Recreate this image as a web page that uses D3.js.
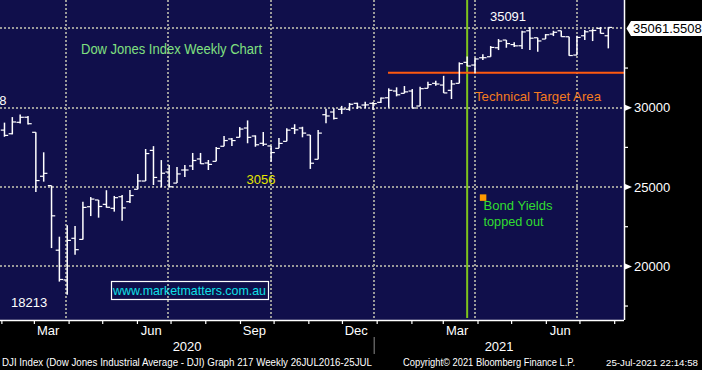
<!DOCTYPE html>
<html>
<head>
<meta charset="utf-8">
<script src="https://cdn.jsdelivr.net/npm/d3@7"></script>
<style>
  body { margin: 0; background: #000; }
  text { font-family: 'Liberation Sans', Arial, sans-serif; }
</style>
</head>
<body>
<div id="chart"></div>
<script>
// weekly bars, Dow Jones Industrial Average (week ending)
const weeks = [
  '2020-01-31','2020-02-07','2020-02-14','2020-02-21','2020-02-28',
  '2020-03-06','2020-03-13','2020-03-20','2020-03-27',
  '2020-04-03','2020-04-10','2020-04-17','2020-04-24',
  '2020-05-01','2020-05-08','2020-05-15','2020-05-22','2020-05-29',
  '2020-06-05','2020-06-12','2020-06-19','2020-06-26',
  '2020-07-03','2020-07-10','2020-07-17','2020-07-24','2020-07-31',
  '2020-08-07','2020-08-14','2020-08-21','2020-08-28',
  '2020-09-04','2020-09-11','2020-09-18','2020-09-25',
  '2020-10-02','2020-10-09','2020-10-16','2020-10-23','2020-10-30',
  '2020-11-06','2020-11-13','2020-11-20','2020-11-27',
  '2020-12-04','2020-12-11','2020-12-18','2020-12-25',
  '2021-01-01','2021-01-08','2021-01-15','2021-01-22','2021-01-29',
  '2021-02-05','2021-02-12','2021-02-19','2021-02-26',
  '2021-03-05','2021-03-12','2021-03-19','2021-03-26',
  '2021-04-02','2021-04-09','2021-04-16','2021-04-23','2021-04-30',
  '2021-05-07','2021-05-14','2021-05-21','2021-05-28',
  '2021-06-04','2021-06-11','2021-06-18','2021-06-25',
  '2021-07-02','2021-07-09','2021-07-16','2021-07-23'
]
const opens = [28590,28360,29080,29400,28450,25680,25090,21020,19145,21770,
  21700,23760,24185,23910,23660,24390,24080,24860,25380,27310,
  25380,25950,25250,26075,26330,26770,26516,26620,27570,28030,
  28135,28720,28217,27757,27590,27440,27880,28700,28720,28280,
  26750,29560,29730,29900,29900,30277,30170,30277,30340,30627,
  31052,30907,31052,30107,31222,31537,31430,31096,31537,32860,
  32690,33150,33213,33780,34265,33980,33906,34851,34410,34328,
  34643,34851,34473,33320,34536,34851,35002,34536]
const highs = [29060,29410,29568,29480,28450,27190,25090,21870,22600,22550,
  24080,24370,24185,24800,24440,24500,24810,25820,27400,27580,
  26700,26390,26260,26390,27150,27150,26705,27520,28210,28090,
  28780,29200,28260,28470,27590,28090,28700,28960,28800,28280,
  28600,29933,29962,30116,30300,30315,30378,30359,30650,31222,
  31285,31367,31178,31323,31638,31701,32010,31745,32860,33227,
  33150,33364,33887,34328,34265,34120,34850,35091,34410,34643,
  34851,34851,34473,34536,34895,34958,35091,35080]
const lows = [28170,28320,29000,28940,24681,25340,21154,19040,18213,20735,
  21700,23170,23070,23700,23450,22880,24000,24860,25380,25130,
  24990,25000,25250,25630,26075,26460,26075,26620,27570,27590,
  28135,27760,27540,27590,26600,27440,27880,28340,28135,26143,
  26750,29017,29260,29600,29810,29918,29962,29855,30300,30000,
  30718,30907,29962,30107,31222,31386,30932,30547,31537,32620,
  32171,33005,33213,33635,33780,33824,33698,33640,33528,34328,
  34517,34473,33280,33320,34265,34202,34680,33741]
const closes = [28256,29102,29398,28992,25409,25865,23186,19174,21637,21053,
  23719,24242,23775,23724,24331,23685,24465,25383,27111,25606,
  25871,25016,25827,26075,26672,26470,26428,27433,27931,27930,
  28654,28133,27666,27700,27174,27750,28587,28606,28400,26502,
  28400,29480,29330,29910,30218,30046,30179,30260,30606,31098,
  30814,31000,29983,31200,31458,31494,30932,31496,32779,32628,
  33073,33153,33801,34200,34043,33900,34778,34382,34208,34600,
  34756,34480,33290,34433,34786,34870,34688,35061.5508]

// axis values
const gridValues = [20000, 25000, 30000, 35000]
const labelValues = [20000, 25000, 30000]
const minorValues = [17500, 22500, 27500, 32500]
const lastPrice = 35061.5508

// annotations
const targetLevel = 32200
const bondWeek = '2021-03-19'
const bondMarker = { week: '2021-04-02', value: 24350 }
const highLabel = 35091
const lowLabel = 18213
const febHigh = 29568

const width = 702, height = 370
const plotW = 624, plotH = 320
const parse = d3.utcParse('%Y-%m-%d')

const data = weeks.map((w, i) => ({
  date: parse(w), o: opens[i], h: highs[i], l: lows[i], c: closes[i]
}))

const svg = d3.select('#chart')
  .append('svg')
  .attr('width', width)
  .attr('height', height)
  .style('display', 'block')

svg.append('rect').attr('width', width).attr('height', height).attr('fill', '#000')

const xScale = d3.scaleUtc()
  .domain([Date.UTC(2020, 1, 2), Date.UTC(2021, 7, 12)])
  .range([0, plotW])
const yScale = d3.scaleLinear().domain([16620, 36790]).range([plotH, 0])

// bars sit a few days after the week end date on this chart
const barX = d => xScale(d3.utcDay.offset(d, 6))

//plot background
svg.append('rect')
  .attr('width', plotW).attr('height', plotH)
  .attr('fill', '#100f4b')

//dotted grid
const grid = svg.append('g')
  .attr('stroke', '#9a9a9a')
  .attr('stroke-width', 2)
  .attr('stroke-dasharray', '2,2')
grid.selectAll('.hg').data(gridValues).join('line')
  .attr('x1', 0).attr('x2', plotW)
  .attr('y1', d => Math.round(yScale(d))).attr('y2', d => Math.round(yScale(d)))
const quarters = d3.utcMonth.every(3).range(xScale.domain()[0], xScale.domain()[1])
grid.selectAll('.vg').data(quarters).join('line')
  .attr('x1', d => Math.round(xScale(d))).attr('x2', d => Math.round(xScale(d)))
  .attr('y1', 0).attr('y2', plotH)

//green vertical line (bond yields)
svg.append('line')
  .attr('x1', barX(parse(bondWeek))).attr('x2', barX(parse(bondWeek)))
  .attr('y1', 0).attr('y2', plotH - 2)
  .attr('stroke', '#7ec41c').attr('stroke-width', 2)

//orange target line
svg.append('line')
  .attr('x1', 388).attr('x2', plotW)
  .attr('y1', yScale(targetLevel)).attr('y2', yScale(targetLevel))
  .attr('stroke', '#ff5a0f').attr('stroke-width', 2)

//ohlc bars
const bars = svg.append('g').attr('stroke', '#fff')
bars.selectAll('.hl').data(data).join('line')
  .attr('x1', d => barX(d.date)).attr('x2', d => barX(d.date))
  .attr('y1', d => yScale(d.h)).attr('y2', d => yScale(d.l))
  .attr('stroke-width', 1.5)
bars.selectAll('.op').data(data).join('line')
  .attr('x1', d => barX(d.date) - 3.7).attr('x2', d => barX(d.date))
  .attr('y1', d => yScale(d.o)).attr('y2', d => yScale(d.o))
  .attr('stroke-width', 1.2)
bars.selectAll('.cl').data(data).join('line')
  .attr('x1', d => barX(d.date)).attr('x2', d => barX(d.date) + 3.7)
  .attr('y1', d => yScale(d.c)).attr('y2', d => yScale(d.c))
  .attr('stroke-width', 1.2)

//bond yield marker
svg.append('rect')
  .attr('x', barX(parse(bondMarker.week)) - 3)
  .attr('y', yScale(bondMarker.value) - 3)
  .attr('width', 6.5).attr('height', 6.5)
  .attr('fill', '#ff9a00')

//axis border lines
svg.append('line').attr('x1', 0).attr('x2', plotW).attr('y1', plotH + 0.5).attr('y2', plotH + 0.5)
  .attr('stroke', '#fff').attr('stroke-width', 1.5)
svg.append('line').attr('x1', plotW + 0.5).attr('x2', plotW + 0.5).attr('y1', 0).attr('y2', plotH)
  .attr('stroke', '#fff').attr('stroke-width', 1.5)

//month ticks
const months = d3.utcMonth.range(d3.utcMonth.ceil(xScale.domain()[0]), xScale.domain()[1])
svg.append('g').selectAll('line').data([d3.utcMonth.floor(xScale.domain()[0])].concat(months)).join('line')
  .attr('x1', d => xScale(d) + 3).attr('x2', d => xScale(d) + 3)
  .attr('y1', plotH).attr('y2', plotH + 4)
  .attr('stroke', '#fff').attr('stroke-width', 1.2)

//month labels
svg.append('g').selectAll('text')
  .data(months.filter(d => d.getUTCMonth() % 3 === 2))
  .join('text')
  .attr('x', d => xScale(d3.utcDay.offset(d, 15)))
  .attr('y', 335)
  .attr('text-anchor', 'middle')
  .attr('fill', '#fff')
  .style('font-size', '13px')
  .text(d3.utcFormat('%b'))

//year labels
const yearSplit = xScale(Date.UTC(2021, 0, 1))
svg.append('text').attr('x', yearSplit / 2).attr('y', 351)
  .attr('text-anchor', 'middle').attr('fill', '#fff').style('font-size', '13px').text('2020')
svg.append('text').attr('x', (yearSplit + plotW) / 2).attr('y', 351)
  .attr('text-anchor', 'middle').attr('fill', '#fff').style('font-size', '13px').text('2021')
svg.append('line').attr('x1', yearSplit).attr('x2', yearSplit).attr('y1', 337).attr('y2', 354)
  .attr('stroke', '#8a8a8a').attr('stroke-width', 1)

//right axis labels
const yLab = svg.append('g')
yLab.selectAll('path').data(labelValues).join('path')
  .attr('d', d => `M${plotW + 1},${yScale(d) - 3} L${plotW + 8},${yScale(d)} L${plotW + 1},${yScale(d) + 3}Z`)
  .attr('fill', '#fff')
yLab.selectAll('text').data(labelValues).join('text')
  .attr('x', 634).attr('y', d => yScale(d) + 4.5)
  .attr('fill', '#fff')
  .style('font-size', '13px')
  .text(d => d)
svg.append('g').selectAll('line').data(minorValues).join('line')
  .attr('x1', plotW).attr('x2', plotW + 4)
  .attr('y1', d => yScale(d)).attr('y2', d => yScale(d))
  .attr('stroke', '#fff').attr('stroke-width', 1.2)

//last price box
const py = yScale(lastPrice) + 1
svg.append('path')
  .attr('d', `M626.5,${py} L631,${py - 7.5} L703,${py - 7.5} L703,${py + 7.5} L631,${py + 7.5}Z`)
  .attr('fill', '#fff')
svg.append('text').attr('x', 633).attr('y', py + 4.5)
  .attr('fill', '#000').style('font-size', '13px')
  .text(d3.format('.4f')(lastPrice))

//chart texts
svg.append('text').attr('x', 81).attr('y', 54)
  .attr('fill', '#80e080').style('font-size', '14px')
  .attr('textLength', 181).attr('lengthAdjust', 'spacingAndGlyphs')
  .text('Dow Jones Index Weekly Chart')

svg.append('text').attr('x', 508).attr('y', 21)
  .attr('text-anchor', 'middle').attr('fill', '#fff').style('font-size', '13px')
  .text(highLabel)

svg.append('text').attr('x', 475).attr('y', 101)
  .attr('fill', '#f47b20').style('font-size', '13.5px')
  .attr('textLength', 126).attr('lengthAdjust', 'spacingAndGlyphs')
  .text('Technical Target Area')

// Feb high label runs off the left edge, as in the original
svg.append('text').attr('x', 6.5).attr('y', 105)
  .attr('text-anchor', 'end').attr('fill', '#fff').style('font-size', '13px')
  .text(febHigh)

svg.append('text').attr('x', 261).attr('y', 184)
  .attr('text-anchor', 'middle').attr('fill', '#e6e600').style('font-size', '13px')
  .text('3056')

svg.append('text').attr('x', 11).attr('y', 307)
  .attr('fill', '#fff').style('font-size', '13px')
  .text(lowLabel)

svg.append('text').attr('x', 483.5).attr('y', 209.5)
  .attr('fill', '#30dd30').style('font-size', '13.5px')
  .attr('textLength', 69).attr('lengthAdjust', 'spacingAndGlyphs')
  .text('Bond Yields')
svg.append('text').attr('x', 483.5).attr('y', 225.5)
  .attr('fill', '#30dd30').style('font-size', '13.5px')
  .attr('textLength', 60).attr('lengthAdjust', 'spacingAndGlyphs')
  .text('topped out')

//website box
svg.append('rect').attr('x', 111.5).attr('y', 281.5).attr('width', 157).attr('height', 18)
  .attr('fill', 'none').attr('stroke', '#fff').attr('stroke-width', 1.2)
svg.append('text').attr('x', 113).attr('y', 295)
  .attr('fill', '#10e0e8').style('font-size', '13.5px')
  .attr('textLength', 153).attr('lengthAdjust', 'spacingAndGlyphs')
  .text('www.marketmatters.com.au')

//footer
const footer = svg.append('g').attr('fill', '#fff').style('font-size', '10.5px')
footer.append('text').attr('x', 2).attr('y', 366)
  .attr('textLength', 370).attr('lengthAdjust', 'spacingAndGlyphs')
  .text('DJI Index (Dow Jones Industrial Average - DJI) Graph 217  Weekly 26JUL2016-25JUL')
footer.append('text').attr('x', 403).attr('y', 366)
  .attr('textLength', 172).attr('lengthAdjust', 'spacingAndGlyphs')
  .text('Copyright\u00a9 2021 Bloomberg Finance L.P.')
footer.append('text').attr('x', 606).attr('y', 366)
  .style('font-size', '9.7px')
  .attr('textLength', 92).attr('lengthAdjust', 'spacingAndGlyphs')
  .text('25-Jul-2021 22:14:58')
</script>
</body>
</html>
